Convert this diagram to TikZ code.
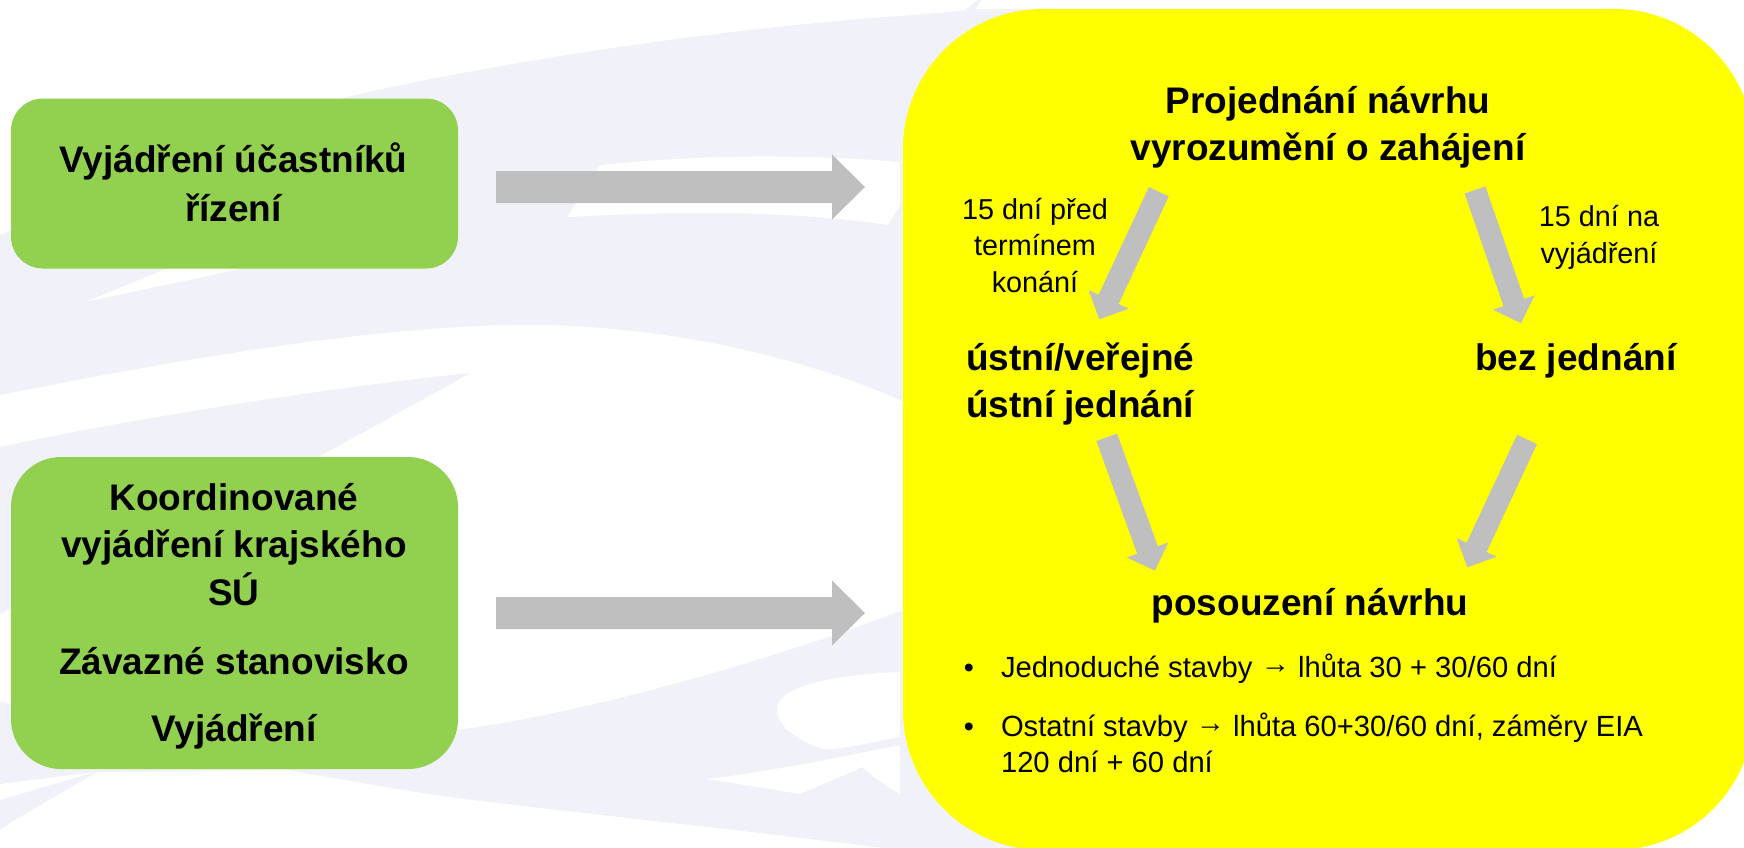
\documentclass[tikz,border=0pt]{standalone}
\usepackage{fontspec}
\setmainfont{Liberation Sans}
\usetikzlibrary{calc}
\definecolor{lav}{RGB}{240,241,249}
\definecolor{grn}{RGB}{146,208,80}
\definecolor{ylw}{RGB}{255,255,0}
\definecolor{agray}{RGB}{191,191,191}
% block arrow: tail, tip, shaft half width, head half width, head length
\newcommand\blockarrow[5]{%
  \coordinate (#2-base) at ($(#2)!#5!(#1)$);
  \fill[arrowfill] ($(#1)!#3!90:(#2)$) -- ($(#2-base)!#3!90:(#2)$) -- ($(#2-base)!#4!90:(#2)$) -- (#2)
     -- ($(#2-base)!#4!-90:(#2)$) -- ($(#2-base)!#3!-90:(#2)$) -- ($(#1)!#3!-90:(#2)$) -- cycle;}
\newcommand\rarr{\raisebox{1.6pt}{→}}
\tikzset{
  bigtxt/.style={font=\fontsize{18.5pt}{22pt}\selectfont\bfseries, inner sep=0pt, outer sep=0pt, anchor=base},
  smalltxt/.style={font=\fontsize{14.4pt}{17pt}\selectfont, inner sep=0pt, outer sep=0pt, anchor=base},
  bullettxt/.style={font=\fontsize{14.6pt}{17pt}\selectfont, inner sep=0pt, outer sep=0pt, anchor=base west},
  greenbox/.style={fill=grn, draw=none, inner sep=0pt, outer sep=0pt, minimum width=223.5pt},
  panelbox/.style={fill=ylw, draw=none, inner sep=0pt, outer sep=0pt, rounded corners=70pt,
     minimum width=425.5pt, minimum height=420.5pt},
  arrowfill/.style={fill=agray},
  bgshape/.style={fill=lav, draw=none},
  bgcut/.style={fill=white, draw=none}
}
\begin{document}
\begin{tikzpicture}[x=0.5pt,y=-0.5pt]
\useasboundingbox (0,0) rectangle (1744,847);
\clip (0,0) rectangle (1744,847);
\fill[white] (0,0) rectangle (1744,847);
% ---- background watermark ----
\fill[bgshape] (0,235) .. controls (120,180) and (250,120) .. (347,97)
   .. controls (480,66) and (700,30) .. (900,16) .. controls (930,14) and (950,12) .. (965,10)
   -- (985,-5) -- (1060,-5) -- (1060,500) -- (1000,470) .. controls (960,440) and (930,415) .. (900,400)
   .. controls (820,365) and (700,330) .. (550,325) .. controls (400,322) and (200,355) .. (0,395) -- cycle;
\fill[white] (985,-5) -- (1060,-5) -- (1060,9) -- (975,9) -- cycle;
\fill[bgcut] (85,302) -- (320,206) -- (320,252) -- cycle;
\fill[bgcut] (567,217) -- (600,165) .. controls (680,157) and (780,152) .. (900,162) -- (900,205) -- (888,225)
   .. controls (800,212) and (700,210) .. (567,217) -- cycle;
\fill[bgshape] (0,447) .. controls (150,415) and (350,385) .. (471,373) -- (300,467) -- (0,614) -- cycle;
\fill[bgshape] (-5,700) .. controls (150,745) and (350,745) .. (450,731)
   .. controls (600,712) and (800,650) .. (900,611) -- (1100,540) -- (1100,900) -- (900,850)
   .. controls (700,825) and (550,810) .. (450,797) .. controls (380,787) and (320,775) .. (287,770)
   -- (97,772) -- (13,821) -- (0,830) -- cycle;
\fill[bgcut] (777,709) .. controls (777,690) and (820,675) .. (900,672) -- (900,737)
   .. controls (860,745) and (835,750) .. (823,749) .. controls (795,740) and (777,725) .. (777,709) -- cycle;
\fill[bgcut] (707,779) .. controls (780,770) and (850,755) .. (900,745) -- (900,794)
   .. controls (885,785) and (870,775) .. (863,767) -- (800,794) -- cycle;
\fill[bgcut] (0,784) -- (95,772) -- (0,800) -- cycle;
% ---- boxes ----
\node[greenbox, minimum height=85pt, rounded corners=16pt] (box1) at (234.5,183.5) {};
\node[greenbox, minimum height=156pt, rounded corners=25pt] (box2) at (234.5,613) {};
\node[panelbox] (panel) at (1328.5,429.5) {};
% ---- green box texts ----
\node[bigtxt] (b1l1) at (233.5,172.7) {Vyjádření účastníků};
\node[bigtxt] (b1l2) at (233.5,221.7) {řízení};
\node[bigtxt] (b2l1) at (234,510) {Koordinované};
\node[bigtxt] (b2l2) at (234,557.3) {vyjádření krajského};
\node[bigtxt] (b2l3) at (234,605.7) {SÚ};
\node[bigtxt] (b2l4) at (234,674) {Závazné stanovisko};
\node[bigtxt] (b2l5) at (234,741.3) {Vyjádření};
% ---- horizontal arrows ----
\coordinate (h1t) at (496,187);  \coordinate (h1p) at (865,187);
\coordinate (h2t) at (496,613);  \coordinate (h2p) at (865,613);
\blockarrow{h1t}{h1p}{8pt}{16.25pt}{16.5pt}
\blockarrow{h2t}{h2p}{8pt}{16.25pt}{16.5pt}
% ---- panel texts ----
\node[bigtxt] (top1) at (1328,113.5) {Projednání návrhu};
\node[bigtxt] (top2) at (1328,160) {vyrozumění o zahájení};
\node[smalltxt] (la1) at (1035,219) {15 dní před};
\node[smalltxt] (la2) at (1035,255.5) {termínem};
\node[smalltxt] (la3) at (1035,292) {konání};
\node[smalltxt] (ra1) at (1599,226) {15 dní na};
\node[smalltxt] (ra2) at (1599,263) {vyjádření};
\node[bigtxt, anchor=base west] (ust1) at (966,370) {ústní/veřejné};
\node[bigtxt, anchor=base west] (ust2) at (966,417) {ústní jednání};
\node[bigtxt, anchor=base west] (bez) at (1475,370) {bez jednání};
\node[bigtxt] (pos) at (1310,615) {posouzení návrhu};
\node[smalltxt] (bu1) at (969,677) {•};
\node[bullettxt] (it1) at (1001,677) {Jednoduché stavby \rarr{} lhůta 30 + 30/60 dní};
\node[smalltxt] (bu2) at (969,736) {•};
\node[bullettxt] (it2a) at (1001,736) {Ostatní stavby \rarr{} lhůta 60+30/60 dní, záměry EIA};
\node[bullettxt] (it2b) at (1001,772.5) {120 dní + 60 dní};
% ---- diagonal arrows ----
\coordinate (dAt) at (1158.8,191.7); \coordinate (dAp) at (1099.3,319.3);
\coordinate (dBt) at (1475,190);     \coordinate (dBp) at (1521,323.3);
\coordinate (dCt) at (1106.7,437.3); \coordinate (dCp) at (1155,570.7);
\coordinate (dDt) at (1527,439.5);   \coordinate (dDp) at (1467.3,567.3);
\blockarrow{dAt}{dAp}{5.5pt}{11pt}{11pt}
\blockarrow{dBt}{dBp}{5.5pt}{11pt}{11pt}
\blockarrow{dCt}{dCp}{5.5pt}{11pt}{11pt}
\blockarrow{dDt}{dDp}{5.5pt}{11pt}{11pt}
\end{tikzpicture}
\end{document}
